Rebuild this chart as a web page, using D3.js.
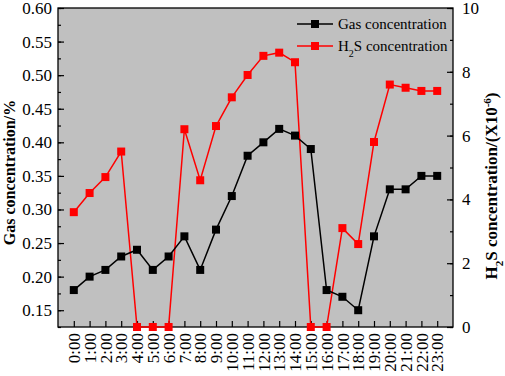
<!DOCTYPE html>
<html>
<head>
<meta charset="utf-8">
<script src="https://cdn.jsdelivr.net/npm/d3@7"></script>
<style>
  body { margin: 0; background: #fff; }
</style>
</head>
<body>
<div id="container"></div>
<script>
/* DATA */
const hours = ["0:00","1:00","2:00","3:00","4:00","5:00","6:00","7:00","8:00","9:00","10:00","11:00",
  "12:00","13:00","14:00","15:00","16:00","17:00","18:00","19:00","20:00","21:00","22:00","23:00"];
const gasConc = [0.18,0.20,0.21,0.23,0.24,0.21,0.23,0.26,0.21,0.27,0.32,0.38,
  0.40,0.42,0.41,0.39,0.18,0.17,0.15,0.26,0.33,0.33,0.35,0.35];
const h2sConc = [3.6,4.2,4.7,5.5,0,0,0,6.2,4.6,6.3,7.2,7.9,
  8.5,8.6,8.3,0,0,3.1,2.6,5.8,7.6,7.5,7.4,7.4];
const leftTicks = [0.15,0.20,0.25,0.30,0.35,0.40,0.45,0.50,0.55,0.60];
const rightTicks = [0,2,4,6,8,10];

/* CONSTANTS */
const width = 505, height = 376;
const margin = {top: 8, right: 52, bottom: 49, left: 58};
const innerW = width - margin.left - margin.right;
const innerH = height - margin.top - margin.bottom;
const serif = "Liberation Serif";

const svg = d3.select("#container").append("svg")
  .attr("width", width)
  .attr("height", height);

const g = svg.append("g").attr("transform", `translate(${margin.left},${margin.top})`);

/* SCALES */
const x = d3.scalePoint().domain(hours).range([0, innerW]).padding(1);
const yL = d3.scaleLinear().domain([0.125, 0.60]).range([innerH, 0]);
const yR = d3.scaleLinear().domain([0, 10]).range([innerH, 0]);

// plot background
g.append("rect").attr("width", innerW).attr("height", innerH).attr("fill", "#c0c0c0");

// left axis, ticks point inward
const leftMinor = d3.range(0.125, 0.6001, 0.025);
g.append("g").call(d3.axisLeft(yL).tickValues(leftMinor).tickSize(-3).tickFormat(""))
  .call(a => a.select(".domain").remove());
g.append("g").attr("class", "axis")
  .call(d3.axisLeft(yL).tickValues(leftTicks).tickSize(-6).tickPadding(0).tickFormat(d3.format(".2f")))
  .call(a => a.select(".domain").remove())
  .call(a => a.selectAll("text").attr("x", -6));

// right axis
g.append("g").attr("transform", `translate(${innerW},0)`)
  .call(d3.axisRight(yR).ticks(10).tickSize(-3).tickFormat(""))
  .call(a => a.select(".domain").remove());
g.append("g").attr("class", "axis").attr("transform", `translate(${innerW},0)`)
  .call(d3.axisRight(yR).tickValues(rightTicks).tickSize(-6).tickPadding(0))
  .call(a => a.select(".domain").remove())
  .call(a => a.selectAll("text").attr("x", 9));

// bottom axis with rotated labels
const xAx = g.append("g").attr("class", "axis").attr("transform", `translate(0,${innerH})`)
  .call(d3.axisBottom(x).tickSize(-6).tickPadding(0));
xAx.select(".domain").remove();
xAx.selectAll("text")
  .attr("transform", "rotate(-90)")
  .attr("text-anchor", "end")
  .attr("x", -6)
  .attr("y", 0)
  .attr("dy", "0.33em");

svg.selectAll(".axis text").attr("fill", "#000")
  .style("font-family", serif).style("font-size", "17px");
svg.selectAll(".tick line").attr("stroke", "#000").attr("stroke-width", 1.2);

// frame
g.append("rect").attr("width", innerW).attr("height", innerH)
  .attr("fill", "none").attr("stroke", "#000").attr("stroke-width", 1.3);

/* LINES */
const lineGas = d3.line().x((d, i) => x(hours[i])).y(d => yL(d));
const lineH2s = d3.line().x((d, i) => x(hours[i])).y(d => yR(d));

g.append("path").datum(h2sConc).attr("d", lineH2s)
  .attr("fill", "none").attr("stroke", "#ff0000").attr("stroke-width", 1.5);
g.append("path").datum(gasConc).attr("d", lineGas)
  .attr("fill", "none").attr("stroke", "#000").attr("stroke-width", 1.5);

const ms = 8;
g.selectAll("rect.h2s").data(h2sConc).join("rect").attr("class", "h2s")
  .attr("x", (d, i) => x(hours[i]) - ms / 2).attr("y", d => yR(d) - ms / 2)
  .attr("width", ms).attr("height", ms).attr("fill", "#ff0000");
g.selectAll("rect.gas").data(gasConc).join("rect").attr("class", "gas")
  .attr("x", (d, i) => x(hours[i]) - ms / 2).attr("y", d => yL(d) - ms / 2)
  .attr("width", ms).attr("height", ms).attr("fill", "#000");

/* LEGEND */
const legend = [
  {label: "Gas concentration", color: "#000"},
  {label: "H2S concentration", color: "#ff0000"}
];
const lg = svg.append("g").attr("transform", "translate(297,24)");
legend.forEach((d, i) => {
  const row = lg.append("g").attr("transform", `translate(0,${i * 22})`);
  row.append("line").attr("x1", 0).attr("x2", 36).attr("stroke", d.color).attr("stroke-width", 1.5);
  row.append("rect").attr("x", 14).attr("y", -4).attr("width", 8).attr("height", 8).attr("fill", d.color);
  const t = row.append("text").attr("x", 41).attr("dy", "0.35em")
    .style("font-family", serif).style("font-size", "15px");
  if (i === 0) t.text(d.label);
  else {
    t.append("tspan").text("H");
    t.append("tspan").style("font-size", "10px").attr("baseline-shift", "sub").text("2");
    t.append("tspan").text("S concentration");
  }
});

/* AXIS TITLES */
svg.append("text")
  .attr("transform", `translate(9,${margin.top + innerH / 2 + 5}) rotate(-90)`)
  .attr("text-anchor", "middle").attr("dy", "0.35em")
  .style("font-family", serif).style("font-size", "16px").style("font-weight", "bold")
  .text("Gas concentration/%");

const rt = svg.append("text")
  .attr("transform", `translate(491,186) rotate(-90)`)
  .attr("text-anchor", "middle").attr("dy", "0.35em")
  .style("font-family", serif).style("font-size", "17px").style("font-weight", "bold");
rt.append("tspan").text("H");
rt.append("tspan").style("font-size", "11px").attr("baseline-shift", "sub").text("2");
rt.append("tspan").text("S concentration/(X10");
rt.append("tspan").style("font-size", "11px").attr("baseline-shift", "super").text("-6");
rt.append("tspan").text(")");
</script>
</body>
</html>
